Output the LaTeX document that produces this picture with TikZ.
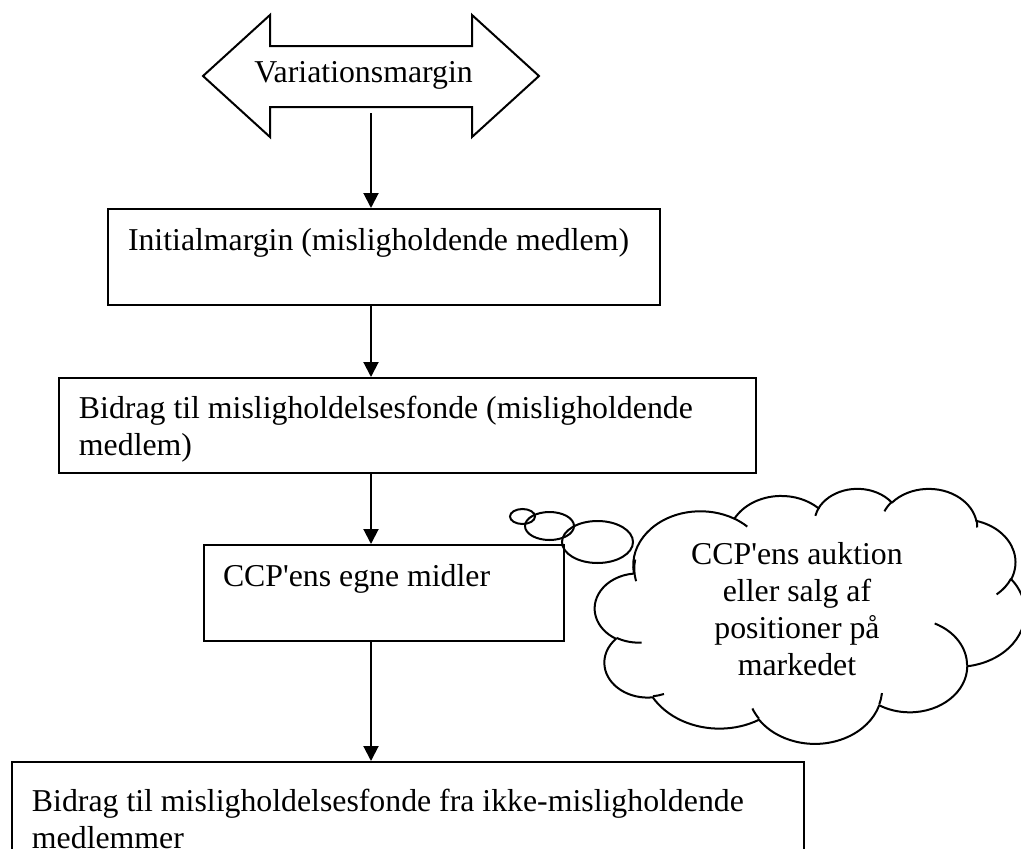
\documentclass[tikz,border=0pt]{standalone}
\usepackage{fontspec}
\setmainfont{Liberation Serif}[Ligatures=TeXOff]
\usetikzlibrary{arrows.meta}
\newcommand\fs{\fontsize{31.8}{37}\selectfont}
\newcommand\carc[4]{arc[start angle={atan2((#1)*sin(#3),(#2)*cos(#3))}, delta angle={mod(atan2((#1)*sin((#3)+(#4)),(#2)*cos((#3)+(#4)))-atan2((#1)*sin(#3),(#2)*cos(#3))+540,360)-180}, x radius=#1, y radius=#2]}
\begin{document}
\begin{tikzpicture}[x=1pt, y=-1pt, line width=2pt,
  every node/.style={font=\fs, inner sep=0pt},
  flowbox/.style={draw, line width=2pt, anchor=north west, inner sep=0pt},
  conn/.style={-{Triangle[width=15pt,length=15pt]}, line width=2pt},
  outline/.style={line width=2pt, line join=miter}]
\useasboundingbox (0,0) rectangle (1021,849);

% double arrow
\draw[outline] (203,76) -- (270,15) -- (270,46) -- (472,46) -- (472,15) -- (539,76)
  -- (472,137) -- (472,107) -- (270,107) -- (270,137) -- cycle;
\node[anchor=base] (va) at (363.5,82) {Variationsmargin};
\coordinate (vb) at (371,113);

% boxes
\node[flowbox, text height=41pt, text depth=55pt] (b1) at (107,208)
  {\hbox to 552pt{\hskip20pt Initialmargin (misligholdende medlem)\hss}};
\node[flowbox, text height=40pt, text depth=55pt] (b2) at (58,377)
  {\hbox to 697pt{\hskip20pt\vtop{\hbox{Bidrag til misligholdelsesfonde (misligholdende}\hbox{medlem)}}\hss}};
\node[flowbox, text height=41pt, text depth=55pt] (b3) at (203,544)
  {\hbox to 360pt{\hskip19pt CCP'ens egne midler\hss}};
\node[flowbox, text height=49pt, text depth=81pt] (b4) at (11,761)
  {\hbox to 792pt{\hskip20pt\vtop{\hbox{Bidrag til misligholdelsesfonde fra ikke-misligholdende}\hbox{medlemmer}}\hss}};

% connectors
\draw[conn] (vb) -- (vb |- b1.north);
\draw[conn] (vb |- b1.south) -- (vb |- b2.north);
\draw[conn] (vb |- b2.south) -- (vb |- b3.north);
\draw[conn] (vb |- b3.south) -- (vb |- b4.north);

% thought bubbles
\draw (522.5,516.5) ellipse[x radius=12.5, y radius=7.5];
\draw (549.5,526) ellipse[x radius=24.5, y radius=14];
\draw (597.5,542) ellipse[x radius=35.5, y radius=21];

% cloud
\begin{scope}[shift={(595,488)}]
\begin{scope}[x=0.099537pt, y=-0.059028pt, line join=round]
\draw (390,1437) \carc{675.3}{919.0}{-190.4875}{123.7805}
  \carc{533.3}{726.7}{-144.1024}{89.9452}
  \carc{436.5}{594.5}{-145.8079}{99.7230}
  \carc{485.7}{659.5}{-130.9861}{117.2417}
  \carc{533.3}{727.3}{-78.7089}{109.0269}
  \carc{677.5}{922.0}{-46.2673}{130.2690}
  \carc{578.5}{786.7}{0.6250}{114.0333}
  \carc{675.2}{921.5}{22.4516}{115.1726}
  \carc{772.0}{1054.3}{66.2426}{75.7110}
  \carc{436.0}{591.8}{-274.9421}{146.7356}
  \carc{434.5}{594.5}{-246.8285}{152.5189} -- cycle;
\draw (469.3,2617.7) \carc{434.5}{594.5}{86.7420}{26.4295}
  (692.8,3489.9) \carc{436.0}{591.8}{73.6105}{11.4475}
  (1647.8,3909.0) \carc{675.2}{921.5}{137.6242}{14.0811}
  (2882.7,3475.1) \carc{675.2}{921.5}{6.4533}{15.9984}
  (3412.9,2295.4) \carc{578.5}{786.7}{-70.2924}{70.9174}
  (4179.8,1535.4) \carc{533.3}{727.3}{30.3180}{27.7515}
  (3832.4,542.6) \carc{485.7}{659.5}{-13.7443}{14.8589}
  (2907.8,395.2) \carc{485.7}{659.5}{-149.1815}{18.1954}
  (2214.1,472.0) \carc{436.5}{594.5}{-163.4943}{17.6864}
  (1400.0,519.2) \carc{675.3}{919.0}{-66.7070}{12.3194}
  (412.7,1578.9) \carc{675.3}{919.0}{162.0360}{31.0364};
\end{scope}
\end{scope}
\node[anchor=base] (ct) at (797,564)
  {\vtop{\hbox to 240pt{\hss CCP'ens auktion\hss}\hbox to 240pt{\hss eller salg af\hss}\hbox to 240pt{\hss positioner på\hss}\hbox to 240pt{\hss markedet\hss}}};
\end{tikzpicture}
\end{document}
